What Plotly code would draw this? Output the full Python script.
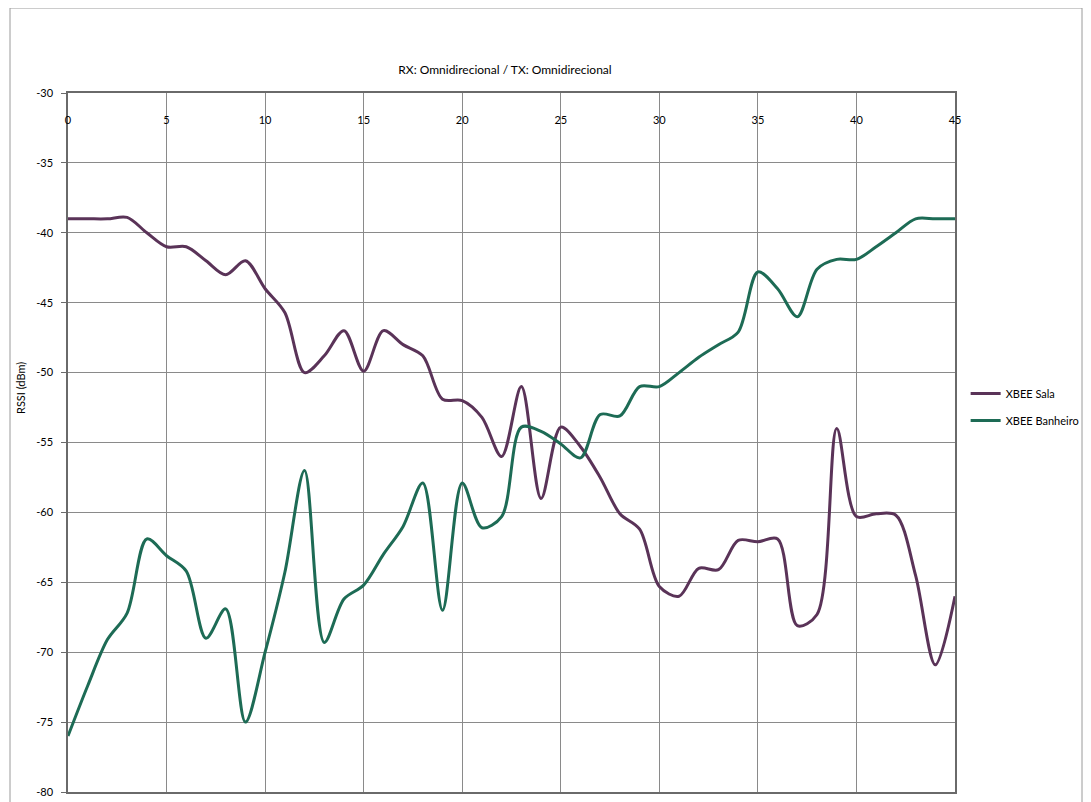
import plotly.graph_objects as go

distance = list(range(0, 46))

xbee_sala = [-39, -39, -39, -38.9, -40, -41, -41, -42, -43, -42,
             -44, -45.7, -50, -48.8, -47, -49.9, -47, -48, -48.8, -51.9,
             -52, -53.2, -56, -51, -59, -53.9, -55.3, -57.5, -60.1, -61.2,
             -65.3, -66, -64, -64.1, -62, -62.1, -61.9, -68.1, -67.3, -54,
             -60.3, -60.1, -60.2, -64.5, -70.9, -66]

xbee_banheiro = [-76, -72.4, -69.1, -67.2, -61.9, -63.1, -64.2, -69, -66.9, -75,
                 -70, -64.3, -57, -69.3, -66.2, -65.2, -63, -61, -57.9, -67,
                 -57.9, -61.1, -60.3, -53.9, -54.2, -55.1, -56.1, -53, -53.1, -51,
                 -51, -50, -48.9, -48, -47.1, -42.8, -44, -46, -42.6, -41.9,
                 -41.9, -41, -40, -39, -39, -39]

series_names = ["XBEE Sala", "XBEE Banheiro"]
series_colors = ["#5a3358", "#1d6b55"]

title_text = "RX: Omnidirecional / TX: Omnidirecional"
y_title = "RSSI (dBm)"
x_ticks = list(range(0, 46, 5))
y_ticks = list(range(-80, -29, 5))
x_tick_text = [str(v) for v in x_ticks]
y_tick_text = [str(v) for v in y_ticks]

FONT = "Lato, 'Open Sans', sans-serif"

# page body has an 8px default margin; compensate so the plot area sits at
# page pixels x 68..955, y 93..792
W, H = 1083, 794
ML, MT = 60, 85
PW, PH = 887, 699

fig = go.Figure()
for name, ys, col in zip(series_names, [xbee_sala, xbee_banheiro], series_colors):
    fig.add_trace(go.Scatter(
        x=distance, y=ys, name=name, mode="lines", legendgroup=name,
        line=dict(color=col, width=3, shape="spline", smoothing=0.9),
    ))

fig.update_layout(
    width=W, height=H,
    margin=dict(l=ML, r=W - ML - PW, t=MT, b=H - MT - PH, autoexpand=False),
    paper_bgcolor="white", plot_bgcolor="white",
    font=dict(family=FONT, size=11, color="#000"),
    showlegend=True,
    legend=dict(x=1.012, y=(792 - 379) / PH, xanchor="left", yanchor="top",
                font=dict(family=FONT, size=11, color="#000"),
                bgcolor="rgba(0,0,0,0)", tracegroupgap=8, itemwidth=30),
    title=dict(text=title_text, x=(505 - 8) / W, xanchor="center",
               y=1 - (70 - 8) / H, yanchor="middle",
               font=dict(family=FONT, size=12, color="#000")),
)

fig.update_xaxes(
    range=[0, 45], tickvals=x_ticks, ticktext=x_tick_text,
    side="top", ticklabelposition="inside", ticklabeloverflow="allow",
    ticklabelstandoff=23, automargin=False,
    showgrid=True, gridcolor="#8a8a8a", gridwidth=1,
    showline=True, linecolor="#6a6a6a", linewidth=1.5, mirror=True,
    ticks="", zeroline=False,
    tickfont=dict(family=FONT, size=11, color="#000"),
)
fig.update_yaxes(
    range=[-80, -30], tickvals=y_ticks, ticktext=y_tick_text,
    ticklabeloverflow="allow", ticklabelstandoff=6, automargin=False,
    showgrid=True, gridcolor="#8a8a8a", gridwidth=1,
    showline=True, linecolor="#6a6a6a", linewidth=1.5, mirror=True,
    ticks="outside", ticklen=5, tickcolor="#6a6a6a", zeroline=False,
    tickfont=dict(family=FONT, size=11, color="#000"),
)

fig.add_annotation(
    text=y_title, xref="paper", yref="paper",
    x=(20 - 68) / PW, y=(792 - 388) / PH, textangle=-90,
    showarrow=False, xanchor="center", yanchor="middle",
    font=dict(family=FONT, size=11, color="#000"),
)

# outer chart frame
fig.add_shape(type="rect", xref="paper", yref="paper",
              x0=(10 - 68) / PW, x1=(1082 - 68) / PW,
              y0=-0.05, y1=1 + (93 - 8) / PH,
              line=dict(color="#9a9a9a", width=1), fillcolor="rgba(0,0,0,0)",
              layer="below")

fig.write_html("out.html")
